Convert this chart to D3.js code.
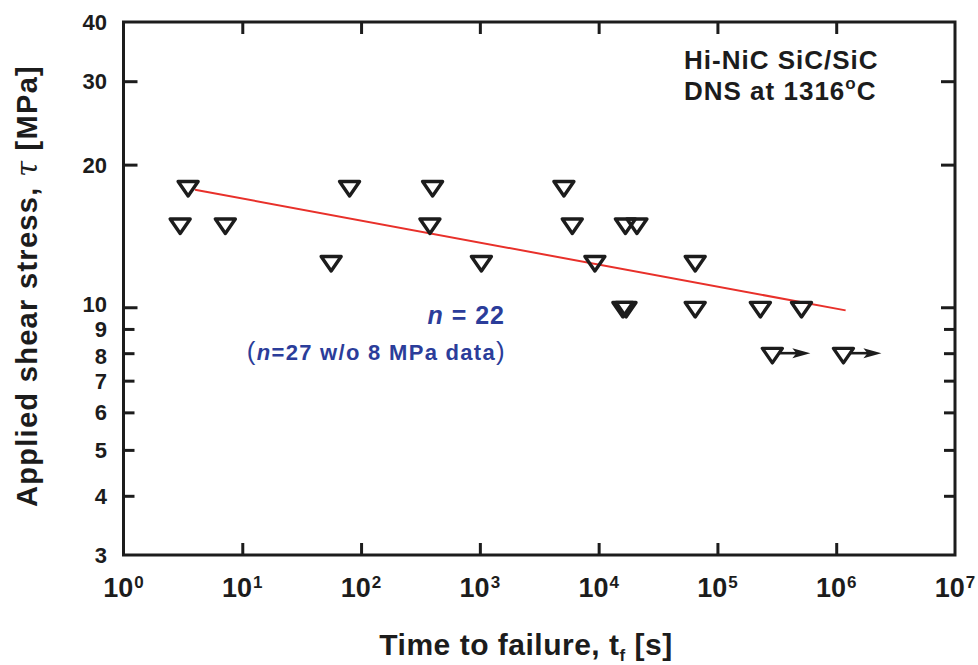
<!DOCTYPE html>
<html>
<head>
<meta charset="utf-8">
<script src="https://cdn.jsdelivr.net/npm/d3@7"></script>
<style>
  html, body { margin: 0; padding: 0; background: #fff; }
  svg { display: block; }
  text { font-family: "Liberation Sans", Arial, Helvetica, sans-serif; font-weight: bold; }
</style>
</head>
<body>
<svg id="chart" width="978" height="665"></svg>
<script>
// ---- data ----
const failTimes   = [3.5, 80, 400, 5100,
                     3.0, 7.2, 380, 6000, 16800, 21000,
                     56, 1030, 9300, 65000,
                     16000, 17000, 65000, 230000, 510000];
const failStress  = [18, 18, 18, 18,
                     15, 15, 15, 15, 15, 15,
                     12.5, 12.5, 12.5, 12.5,
                     10, 10, 10, 10, 10];
const runoutTimes  = [290000, 1150000];
const runoutStress = [8, 8];
const fitTimes  = [4, 1200000];
const fitStress = [17.7, 9.85];
const xTickExps   = [0, 1, 2, 3, 4, 5, 6, 7];
const yTickValues = [3, 4, 5, 6, 7, 8, 9, 10, 20, 30, 40];
const yMajor      = [10, 20, 30];

// ---- layout ----
const svg = d3.select("#chart");
const L = 123.5, T = 22, R = 955, B = 555;
const ink = "#1c1c1c";
const x = d3.scaleLog().domain([1, 1e7]).range([L, R]);
const y = d3.scaleLog().domain([3, 40]).range([B, T]);

// frame
svg.append("rect").attr("x", L).attr("y", T).attr("width", R - L).attr("height", B - T)
  .attr("fill", "none").attr("stroke", ink).attr("stroke-width", 3);

const xTickVals = xTickExps.map(e => Math.pow(10, e));
const innerX = xTickVals.slice(1, -1);
const innerY = yTickValues.slice(1, -1);

function styleAxis(g) {
  g.select(".domain").remove();
  g.selectAll(".tick line").attr("stroke", ink).attr("stroke-width", 3);
  g.selectAll(".tick text").remove();
}
// bottom & top ticks (inward)
svg.append("g").attr("transform", `translate(0,${B})`)
  .call(d3.axisBottom(x).tickValues(innerX).tickSizeInner(-12).tickSizeOuter(0)).call(styleAxis);
svg.append("g").attr("transform", `translate(0,${T})`)
  .call(d3.axisTop(x).tickValues(innerX).tickSizeInner(-12).tickSizeOuter(0)).call(styleAxis);
// left & right ticks (inward)
const yLen = v => yMajor.includes(v) ? 14 : 11;
["left", "right"].forEach(side => {
  const x0 = side === "left" ? L : R;
  const g = svg.append("g").attr("transform", `translate(${x0},0)`);
  const ax = side === "left" ? d3.axisLeft(y) : d3.axisRight(y);
  g.call(ax.tickValues(innerY).tickSizeOuter(0).tickFormat("")).call(styleAxis);
  g.selectAll(".tick line").attr("x2", d => (side === "left" ? 1 : -1) * yLen(d));
});

// y tick labels (10/9/8 sit tightly stacked as in the reference; small nudges keep them apart)
const nudge = v => v === 10 ? -3 : (v === 8 ? 3 : 0);
svg.append("g").selectAll("text").data(yTickValues).join("text")
  .attr("x", 107).attr("y", d => y(d) + nudge(d)).attr("dy", "0.36em")
  .attr("text-anchor", "end").attr("font-size", 22).attr("fill", ink)
  .text(d => d);

// x tick labels 10^n
const xl = svg.append("g").selectAll("text").data(xTickExps).join("text")
  .attr("x", d => x(Math.pow(10, d))).attr("y", 597)
  .attr("text-anchor", "middle").attr("font-size", 27).attr("fill", ink);
xl.append("tspan").text("10");
xl.append("tspan").attr("font-size", 17).attr("dy", -9).attr("dx", 1).text(d => d);

// axis titles
const yt = svg.append("text").attr("transform", "translate(37,286) rotate(-90)")
  .attr("text-anchor", "middle").attr("font-size", 29).attr("letter-spacing", 1.3).attr("fill", ink);
yt.append("tspan").text("Applied shear stress, ");
yt.append("tspan").attr("font-family", "'DejaVu Serif', serif").attr("font-style", "italic").attr("font-weight", "normal").text("τ");
yt.append("tspan").text(" [MPa]");

const xt = svg.append("text").attr("x", 526).attr("y", 655)
  .attr("text-anchor", "middle").attr("font-size", 30).attr("letter-spacing", 0.5).attr("fill", ink);
xt.append("tspan").text("Time to failure, t");
xt.append("tspan").attr("font-size", 17).attr("dy", 6).text("f");
xt.append("tspan").attr("dy", -6).text(" [s]");

// fit line
const fitData = fitTimes.map((t, i) => [t, fitStress[i]]);
svg.append("path").datum(fitData)
  .attr("d", d3.line().x(d => x(d[0])).y(d => y(d[1])))
  .attr("fill", "none").attr("stroke", "#e8302a").attr("stroke-width", 2);

// triangle marker (pointing down, centroid at data point)
function tri(cx, cy) {
  const p = d3.path();
  const w = 10, h = 14.5;
  p.moveTo(cx - w, cy - h / 3);
  p.lineTo(cx + w, cy - h / 3);
  p.lineTo(cx, cy + 2 * h / 3);
  p.closePath();
  return p.toString();
}
const pts = failTimes.map((t, i) => [t, failStress[i]]);
svg.append("g").selectAll("path").data(pts).join("path")
  .attr("d", d => tri(x(d[0]), y(d[1])))
  .attr("fill", "none").attr("stroke", ink).attr("stroke-width", 3.4).attr("stroke-linejoin", "round");

// run-outs with arrows
const ro = runoutTimes.map((t, i) => [t, runoutStress[i]]);
const rg = svg.append("g").selectAll("g").data(ro).join("g");
rg.append("path").attr("d", d => tri(x(d[0]), y(d[1])))
  .attr("fill", "none").attr("stroke", ink).attr("stroke-width", 3.4).attr("stroke-linejoin", "round");
rg.append("line")
  .attr("x1", d => x(d[0]) + 6).attr("x2", d => x(d[0]) + 28)
  .attr("y1", d => y(d[1])).attr("y2", d => y(d[1]))
  .attr("stroke", ink).attr("stroke-width", 2.6);
rg.append("path")
  .attr("d", d => {
    const cx = x(d[0]), cy = y(d[1]);
    return `M${cx + 38},${cy} L${cx + 20},${cy - 5} L${cx + 24},${cy} L${cx + 20},${cy + 5} Z`;
  })
  .attr("fill", ink);

// annotations
const note = svg.append("g").attr("fill", ink).attr("font-size", 26).attr("letter-spacing", 1);
note.append("text").attr("x", 684).attr("y", 69).text("Hi-NiC SiC/SiC");
const l2 = note.append("text").attr("x", 684).attr("y", 100);
l2.append("tspan").text("DNS at 1316");
l2.append("tspan").attr("font-size", 17).attr("dy", -11).text("o");
l2.append("tspan").attr("dy", 11).text("C");

const blue = "#2b3d9a";
const n1 = svg.append("text").attr("x", 505).attr("y", 324).attr("text-anchor", "end")
  .attr("font-size", 25).attr("letter-spacing", 1).attr("fill", blue);
n1.append("tspan").attr("font-style", "italic").text("n");
n1.append("tspan").text(" = 22");
const n2 = svg.append("text").attr("x", 506).attr("y", 360).attr("text-anchor", "end")
  .attr("font-size", 22).attr("letter-spacing", 1.3).attr("fill", blue);
n2.append("tspan").attr("font-weight", "normal").attr("font-size", 26).text("(");
n2.append("tspan").attr("font-style", "italic").text("n");
n2.append("tspan").text("=27 w/o 8 MPa data");
n2.append("tspan").attr("font-weight", "normal").attr("font-size", 26).text(")");
</script>
</body>
</html>
